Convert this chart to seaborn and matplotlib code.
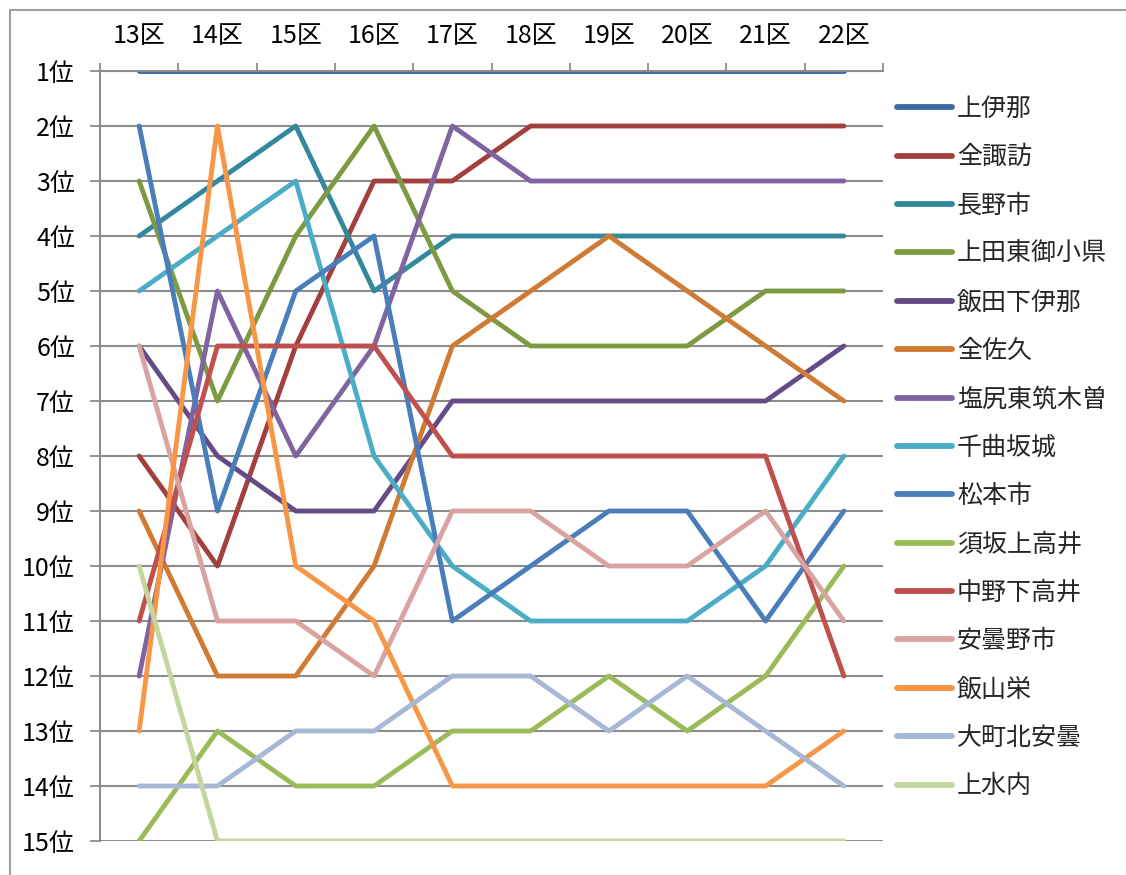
import matplotlib
matplotlib.use("Agg")
import matplotlib.pyplot as plt
from matplotlib.patches import Rectangle
from matplotlib.ticker import FixedLocator
import seaborn as sns
import pandas as pd

# ---- data ----
districts = ["13区", "14区", "15区", "16区", "17区", "18区", "19区", "20区", "21区", "22区"]
rank_labels = [f"{i}位" for i in range(1, 16)]

series_names = ["上伊那", "全諏訪", "長野市", "上田東御小県", "飯田下伊那", "全佐久",
                "塩尻東筑木曽", "千曲坂城", "松本市", "須坂上高井", "中野下高井",
                "安曇野市", "飯山栄", "大町北安曇", "上水内"]

kamiina      = [1, 1, 1, 1, 1, 1, 1, 1, 1, 1]
zensuwa      = [8, 10, 6, 3, 3, 2, 2, 2, 2, 2]
naganoshi    = [4, 3, 2, 5, 4, 4, 4, 4, 4, 4]
ueda         = [3, 7, 4, 2, 5, 6, 6, 6, 5, 5]
iida         = [6, 8, 9, 9, 7, 7, 7, 7, 7, 6]
zensaku      = [9, 12, 12, 10, 6, 5, 4, 5, 6, 7]
shiojiri     = [12, 5, 8, 6, 2, 3, 3, 3, 3, 3]
chikuma      = [5, 4, 3, 8, 10, 11, 11, 11, 10, 8]
matsumoto    = [2, 9, 5, 4, 11, 10, 9, 9, 11, 9]
suzaka       = [15, 13, 14, 14, 13, 13, 12, 13, 12, 10]
nakano       = [11, 6, 6, 6, 8, 8, 8, 8, 8, 12]
azumino      = [6, 11, 11, 12, 9, 9, 10, 10, 9, 11]
iiyama       = [13, 2, 10, 11, 14, 14, 14, 14, 14, 13]
omachi       = [14, 14, 13, 13, 12, 12, 13, 12, 13, 14]
kaminochi    = [10, 15, 15, 15, 15, 15, 15, 15, 15, 15]

all_ranks = [kamiina, zensuwa, naganoshi, ueda, iida, zensaku, shiojiri, chikuma,
             matsumoto, suzaka, nakano, azumino, iiyama, omachi, kaminochi]

colors = ["#3E6AA1", "#A2403D", "#33889D", "#7D9A42", "#634C86", "#D07A34",
          "#8064A2", "#4BACC6", "#4A7EBB", "#9BBB59", "#C0504D", "#D9A3A1",
          "#F79646", "#A6B8D6", "#C3D69B"]

rows = []
for name, ranks in zip(series_names, all_ranks):
    for i, r in enumerate(ranks):
        rows.append({"series": name, "x": i, "rank": r})
df = pd.DataFrame(rows)

# ---- style ----
sns.set_theme(style="white")
plt.rcParams["font.family"] = ["Noto Sans CJK JP", "DejaVu Sans"]

FS = 18
W, H = 1126, 875
fig = plt.figure(figsize=(W / 100, H / 100), dpi=100)
ax = fig.add_axes([100 / W, 1 - 841 / H, (883 - 100) / W, (841 - 71) / H])

sns.lineplot(data=df, x="x", y="rank", hue="series", hue_order=series_names,
             palette=colors, sort=False, linewidth=3.5, ax=ax, legend=True,
             estimator=None)
for ln in ax.get_lines():
    ln.set_solid_capstyle("round")
    ln.set_solid_joinstyle("round")

ax.set_xlim(-0.5, len(districts) - 0.5)
ax.set_ylim(15, 1)
ax.set_xlabel("")
ax.set_ylabel("")

# y axis
ax.set_yticks(range(1, 16))
ax.set_yticklabels(rank_labels, fontsize=FS, color="black")
ax.yaxis.grid(True, color="#8C8C8C", linewidth=1.5)
ax.set_axisbelow(True)
ax.tick_params(axis="y", which="major", left=True, length=7, width=1.3,
               color="#8C8C8C", pad=11)

# x axis on top
ax.xaxis.tick_top()
ax.set_xticks(range(len(districts)))
ax.set_xticklabels(districts, fontsize=FS, color="black")
ax.xaxis.set_minor_locator(FixedLocator([i - 0.5 for i in range(len(districts) + 1)]))
ax.tick_params(axis="x", which="major", top=True, bottom=False, length=0, pad=16)
ax.tick_params(axis="x", which="minor", top=True, bottom=False, length=6,
               width=1.3, color="#8C8C8C", direction="out")

for side in ["right", "bottom"]:
    ax.spines[side].set_visible(False)
for side in ["left", "top"]:
    ax.spines[side].set_color("#8C8C8C")
    ax.spines[side].set_linewidth(1.5)

# legend
handles, labels = ax.get_legend_handles_labels()
if ax.get_legend() is not None:
    ax.get_legend().remove()
for h in handles:
    h.set_linewidth(4.2)
    h.set_solid_capstyle("round")
fig.legend(handles, labels, loc="upper left", bbox_to_anchor=(897 / W, 1 - 96 / H),
           frameon=False, fontsize=FS, handlelength=2.2, handletextpad=0.2,
           labelspacing=0.895, borderpad=0, borderaxespad=0)

# outer chart border
fig.patches.append(Rectangle((10 / W, -0.05), 1.2, 1 - 10 / H + 0.05,
                             transform=fig.transFigure, fill=False,
                             edgecolor="#A0A0A0", linewidth=1.5))

fig.savefig("out.png", dpi=100)
